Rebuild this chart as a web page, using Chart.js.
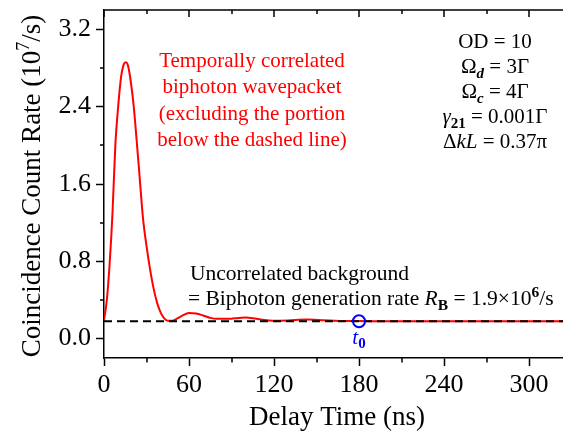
<!DOCTYPE html>
<html>
<head>
<meta charset="utf-8">
<script src="https://cdn.jsdelivr.net/npm/chart.js@4.4.1/dist/chart.umd.min.js"></script>
<style>
  body { margin:0; background:#fff; }
  canvas { display:block; }
</style>
</head>
<body>
<canvas id="coinc-chart" width="563" height="433"></canvas>
<script>
// delay time (ns) and coincidence count rate (10^7/s)
const delayTimes = [0,2,4,6,8,10,12,14,15.5,17,19,21,23,25,27.5,30,32.5,35,37.5,40,42.5,45,47.5,50,55,60,65,70,75,80,88,95,100,105,112,119,130,143,155,166,180,200,250,324];
const countRates = [0.19,0.40,0.78,1.30,2.00,2.40,2.70,2.84,2.86,2.82,2.65,2.40,2.06,1.70,1.25,0.96,0.72,0.52,0.37,0.27,0.21,0.185,0.185,0.195,0.235,0.265,0.26,0.24,0.215,0.205,0.205,0.215,0.218,0.212,0.195,0.185,0.188,0.197,0.19,0.183,0.182,0.18,0.18,0.18];
const backgroundRate = 0.18;
const t0 = 180;
const xTicks = [0,60,120,180,240,300];
const xMinorTicks = [30,90,150,210,270];
const yTicks = [0.0,0.8,1.6,2.4,3.2];
const yMinorTicks = [0.4,1.2,2.0,2.8];

const SERIF = '"Liberation Serif", "Times New Roman", serif';

function richText(ctx, segs, x, y, align) {
  let w = 0;
  segs.forEach(s => { ctx.font = s.font; w += ctx.measureText(s.t).width; });
  let cx = align === 'center' ? x - w / 2 : x;
  segs.forEach(s => {
    ctx.font = s.font;
    ctx.fillText(s.t, cx, y + (s.dy || 0));
    cx += ctx.measureText(s.t).width;
  });
}

function noPad(s) {
  s.paddingLeft = 0; s.paddingRight = 0; s.paddingTop = 0; s.paddingBottom = 0;
}

const extras = {
  id: 'extras',
  afterDraw(chart) {
    const ctx = chart.ctx;
    const xs = chart.scales.x, ys = chart.scales.y;
    const a = chart.chartArea;
    ctx.save();
    ctx.strokeStyle = '#000';
    ctx.lineWidth = 1.5;
    ctx.beginPath();
    // top axis
    ctx.moveTo(a.left, a.top); ctx.lineTo(a.right, a.top);
    xTicks.forEach(v => { const px = Math.round(xs.getPixelForValue(v)); ctx.moveTo(px, a.top); ctx.lineTo(px, a.top + 7); });
    xMinorTicks.forEach(v => {
      const px = Math.round(xs.getPixelForValue(v));
      ctx.moveTo(px, a.top); ctx.lineTo(px, a.top + 4);
      ctx.moveTo(px, a.bottom); ctx.lineTo(px, a.bottom + 4.5);
    });
    yMinorTicks.forEach(v => { const py = Math.round(ys.getPixelForValue(v)); ctx.moveTo(a.left, py); ctx.lineTo(a.left - 4, py); });
    ctx.stroke();

    ctx.fillStyle = '#000';
    ctx.textBaseline = 'alphabetic';
    ctx.textAlign = 'left';
    // axis titles
    richText(ctx, [{t:'Delay Time (ns)', font:'27px ' + SERIF}], 337, 425, 'center');
    ctx.save();
    ctx.translate(40, 186);
    ctx.rotate(-Math.PI / 2);
    richText(ctx, [
      {t:'Coincidence Count Rate (10', font:'27px ' + SERIF},
      {t:'7', font:'18px ' + SERIF, dy:-11},
      {t:'/s)', font:'27px ' + SERIF}
    ], 0, 0, 'center');
    ctx.restore();

    // red annotation
    ctx.fillStyle = '#ff0000';
    const red = ['Temporally correlated','biphoton wavepacket','(excluding the portion','below the dashed line)'];
    red.forEach((s, i) => richText(ctx, [{t:s, font:'21px ' + SERIF}], 252, 67 + i * 26.3, 'center'));

    // parameters
    ctx.fillStyle = '#000';
    const f = '21px ' + SERIF, fi = 'italic 21px ' + SERIF, sb = 'bold italic 15px ' + SERIF, sbn = 'bold 15px ' + SERIF;
    const px0 = 495, py0 = 48, dl = 25;
    richText(ctx, [{t:'OD = 10', font:f}], px0, py0, 'center');
    richText(ctx, [{t:'Ω', font:f},{t:'d', font:sb, dy:5},{t:' = 3Γ', font:f}], px0, py0 + dl, 'center');
    richText(ctx, [{t:'Ω', font:f},{t:'c', font:sb, dy:5},{t:' = 4Γ', font:f}], px0, py0 + 2 * dl, 'center');
    richText(ctx, [{t:'γ', font:fi},{t:'21', font:sbn, dy:5},{t:' = 0.001Γ', font:f}], px0, py0 + 3 * dl, 'center');
    richText(ctx, [{t:'Δ', font:f},{t:'kL', font:fi},{t:' = 0.37π', font:f}], px0, py0 + 4 * dl, 'center');

    // background annotation
    const g = '21.5px ' + SERIF, gi = 'italic 21.5px ' + SERIF, gs = 'bold 15.5px ' + SERIF;
    richText(ctx, [{t:'Uncorrelated background', font:g}], 190, 280, 'left');
    richText(ctx, [
      {t:'= Biphoton generation rate ', font:g},
      {t:'R', font:gi},
      {t:'B', font:gs, dy:5},
      {t:' = 1.9×10', font:g},
      {t:'6', font:gs, dy:-8},
      {t:'/s', font:g}
    ], 188, 305, 'left');

    // t0 label
    ctx.fillStyle = '#0000ff';
    richText(ctx, [{t:'t', font:fi},{t:'0', font:sbn, dy:4}], xs.getPixelForValue(t0), 344, 'center');
    ctx.restore();
  }
};

new Chart(document.getElementById('coinc-chart'), {
  type: 'line',
  data: {
    datasets: [
      {
        label: 't0',
        data: [{x: t0, y: backgroundRate}],
        showLine: false,
        pointRadius: 6,
        pointBorderWidth: 2,
        pointBorderColor: '#0000ff',
        pointBackgroundColor: 'rgba(0,0,0,0)',
        order: 0
      },
      {
        label: 'background',
        data: [{x: 0, y: backgroundRate}, {x: 324, y: backgroundRate}],
        borderColor: '#000',
        borderWidth: 1.8,
        borderDash: [8, 5],
        pointRadius: 0,
        order: 1
      },
      {
        label: 'wavepacket',
        data: delayTimes.map((t, i) => ({x: t, y: countRates[i]})),
        borderColor: '#ff0000',
        borderWidth: 2,
        pointRadius: 0,
        cubicInterpolationMode: 'monotone',
        order: 2
      }
    ]
  },
  options: {
    responsive: false,
    animation: false,
    devicePixelRatio: 1,
    layout: { autoPadding: false, padding: { top: 10, right: 0, left: 0, bottom: 0 } },
    plugins: { legend: { display: false }, tooltip: { enabled: false } },
    scales: {
      x: {
        type: 'linear',
        min: 0, max: 324,
        afterFit: s => { s.height = 75; noPad(s); },
        ticks: { stepSize: 60, includeBounds: false, color: '#000', padding: 4, maxRotation: 0,
                 font: { family: SERIF, size: 26 } },
        grid: { drawOnChartArea: false, tickLength: 8, tickColor: '#000', tickWidth: 1.5 },
        border: { color: '#000', width: 1.5 }
      },
      y: {
        min: -0.2, max: 3.4,
        afterFit: s => { s.width = 104; noPad(s); },
        ticks: { stepSize: 0.8, includeBounds: false, color: '#000', padding: 5,
                 font: { family: SERIF, size: 26 }, callback: v => v.toFixed(1) },
        grid: { drawOnChartArea: false, tickLength: 8, tickColor: '#000', tickWidth: 1.5 },
        border: { color: '#000', width: 1.5 }
      }
    }
  },
  plugins: [extras]
});
</script>
</body>
</html>
